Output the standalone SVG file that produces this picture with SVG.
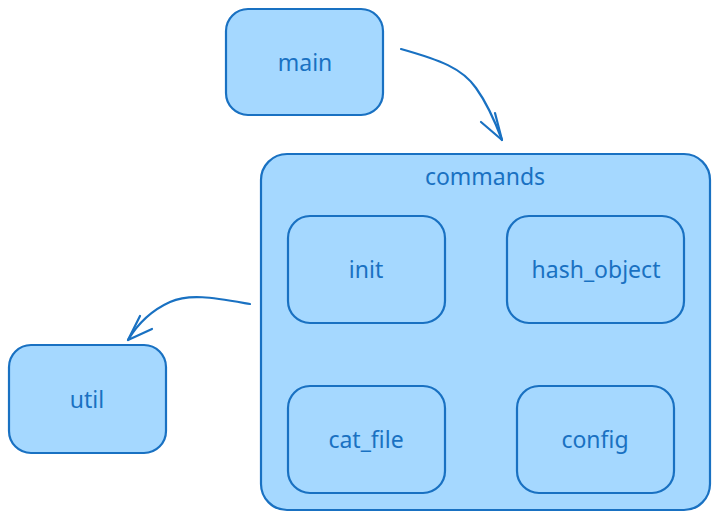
<svg xmlns="http://www.w3.org/2000/svg" width="720" height="519" viewBox="0 0 720 519">
<defs>
<style>
.box{fill:#a5d8ff;stroke:#1971c2;stroke-width:2.2}
.inner{fill:none;stroke:#1971c2;stroke-width:2.2}
.lbl{font-family:"Noto Sans",sans-serif;font-size:23px;fill:#1971c2;text-anchor:middle;dominant-baseline:central}
.conn{fill:none;stroke:#1971c2;stroke-width:2.2;stroke-linecap:round;stroke-linejoin:round}
</style>
</defs>
<rect width="720" height="519" fill="#ffffff"/>
<g id="main"><rect class="box" x="226" y="9" width="157" height="106" rx="22"/><text class="lbl" x="305" y="62">main</text></g>
<g id="commands"><rect class="box" x="261" y="154" width="449" height="356" rx="26"/><text class="lbl" x="485" y="176">commands</text></g>
<g id="init"><rect class="inner" x="288" y="216" width="157" height="107" rx="22"/><text class="lbl" x="366" y="269">init</text></g>
<g id="hash_object"><rect class="inner" x="507" y="216" width="177" height="107" rx="22"/><text class="lbl" x="596" y="269">hash_object</text></g>
<g id="cat_file"><rect class="inner" x="288" y="386" width="157" height="107" rx="22"/><text class="lbl" x="366" y="439">cat_file</text></g>
<g id="config"><rect class="inner" x="517" y="386" width="157" height="107" rx="22"/><text class="lbl" x="595" y="439">config</text></g>
<g id="util"><rect class="box" x="9" y="345" width="157" height="108" rx="22"/><text class="lbl" x="87" y="399">util</text></g>
<g id="connectors">
<path class="conn" d="M401 49 C440 60 462 68 476 88 C489 106 496 124 502 140"/>
<path class="conn" d="M495 113 L502 140 L481 122"/>
<path class="conn" d="M250 304 C215 298 190 293 170 302 C150 311 137 325 128 340"/>
<path class="conn" d="M140 316 L128 340 L152 329"/>
</g>
</svg>
